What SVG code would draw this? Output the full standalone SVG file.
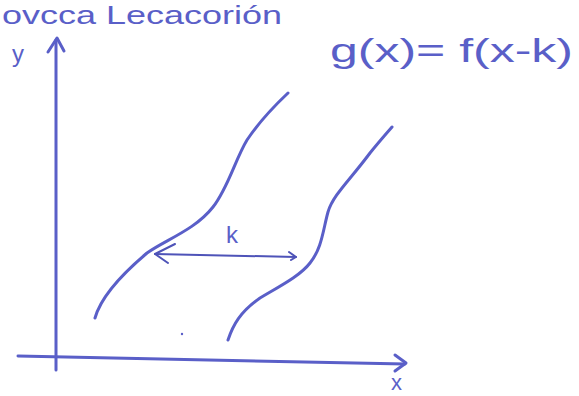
<svg xmlns="http://www.w3.org/2000/svg" width="579" height="396" viewBox="0 0 579 396">
<style>
.ink{fill:none;stroke:#5a5fc8;stroke-width:3;stroke-linecap:round;stroke-linejoin:round}
.thin{fill:none;stroke:#4e53b8;stroke-width:2;stroke-linecap:round;stroke-linejoin:round}
.t{fill:#5a5fc8;font-family:"Liberation Sans",sans-serif}
</style>
<rect width="579" height="396" fill="#ffffff"/>
<g id="title"><text class="t" x="2" y="24" font-size="26" textLength="280" lengthAdjust="spacingAndGlyphs">ovcca Lecacorión</text></g>
<g id="formula"><text class="t" x="330" y="62" font-size="34" textLength="243" lengthAdjust="spacingAndGlyphs">g(x)= f(x-k)</text></g>
<g id="axes">
<path class="ink" d="M56,40 L56,370"/>
<path class="ink" d="M48,52 L57,38 L64,51"/>
<path class="ink" d="M18,356 L405,364"/>
<path class="ink" d="M395,355 L406,363 L395,371"/>
<text class="t" x="12" y="62" font-size="24">y</text>
<text class="t" x="391" y="390" font-size="22">x</text>
</g>
<g id="curve-f"><path class="ink" d="M95,318 C100,300 115,280 147,253 C165,240 195,230 213,207 C228,188 235,160 247,140 C257,125 270,110 288,93"/></g>
<g id="curve-g"><path class="ink" d="M228,340 C233,325 240,312 260,298 C280,286 300,276 310,263 C322,248 323,230 328,212 C333,195 350,180 370,153 C378,143 385,135 392,127"/></g>
<g id="connectors">
<path class="thin" d="M155,254 L296,257"/>
<path class="thin" d="M175,244 L155,254 L168,263"/>
<path class="thin" d="M289,252 L296,257 L291,260"/>
</g>
<g id="k-label"><text class="t" x="226" y="243" font-size="24">k</text></g>
<circle cx="182" cy="334" r="1.2" fill="#5a5fc8"/>
</svg>
